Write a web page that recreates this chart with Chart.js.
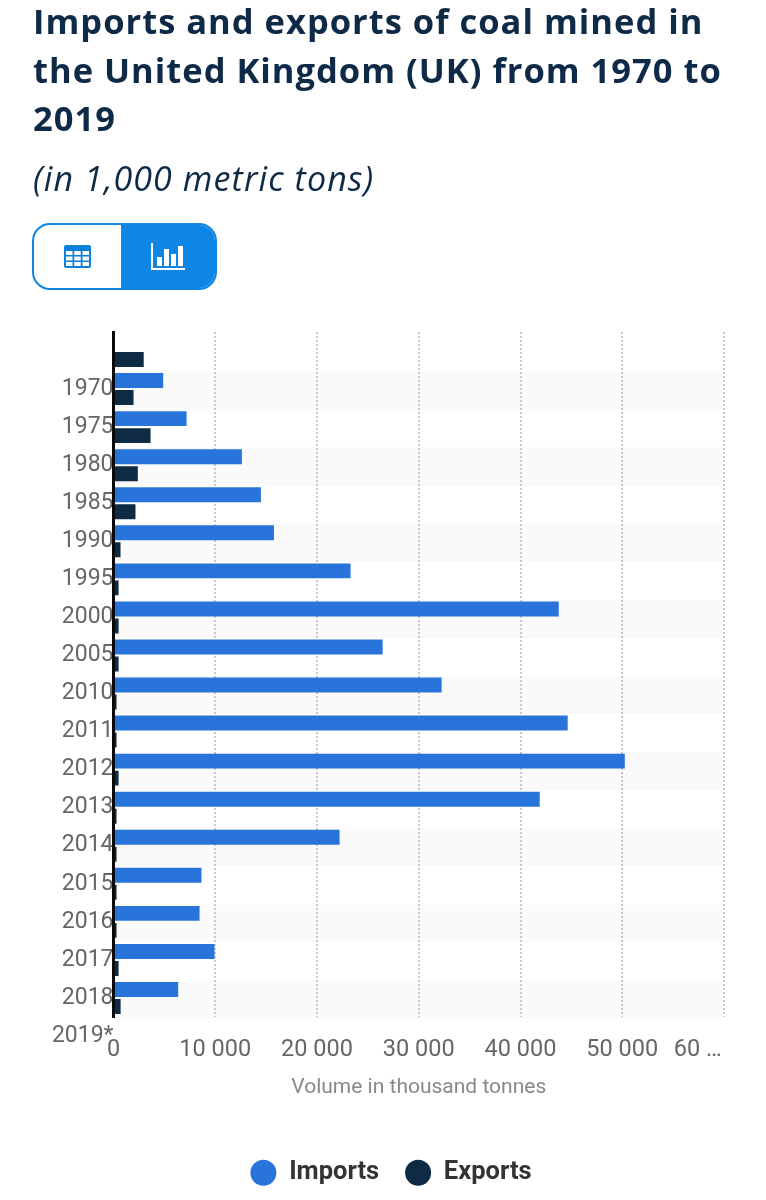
<!DOCTYPE html>
<html>
<head>
<meta charset="utf-8">
<title>Coal imports and exports UK</title>
<script src="https://cdn.jsdelivr.net/npm/chart.js@4"></script>
<style>
  html, body { margin: 0; padding: 0; background: #fff; }
  body { position: relative; width: 766px; height: 1200px; overflow: hidden; font-family: "Open Sans", sans-serif; color: #0f2a47; }
  #chart { position: absolute; left: 0; top: 0; }
  h1 { position: absolute; left: 33px; top: -3px; margin: 0; font-size: 34.5px; line-height: 48.5px; font-weight: 700; letter-spacing: 1px; white-space: nowrap; }
  #subtitle { position: absolute; left: 33px; top: 155px; font-size: 34px; line-height: 46px; font-style: italic; letter-spacing: 1.1px; white-space: nowrap; }
  #toggle { position: absolute; left: 32px; top: 223px; width: 185px; height: 67px; box-sizing: border-box; border: 2px solid #0d86e6; border-radius: 18px; overflow: hidden; display: flex; }
  #toggle div { flex: 0 0 87px; display: flex; align-items: center; justify-content: center; }
  #toggle div + div { flex: 1; background: #0d86e6; }
</style>
</head>
<body>
<canvas id="chart" width="766" height="1200"></canvas>
<h1>Imports and exports of coal mined in<br>the United Kingdom (UK) from 1970 to<br>2019</h1>
<div id="subtitle">(in 1,000 metric tons)</div>
<div id="toggle">
  <div>
    <svg width="27" height="23" viewBox="0 0 27 23"><rect width="27" height="23" rx="2" fill="#0b80d8"/><g fill="#fff"><rect x="2" y="6" width="6.5" height="4"/><rect x="10.2" y="6" width="6.5" height="4"/><rect x="18.5" y="6" width="6.5" height="4"/><rect x="2" y="11.5" width="6.5" height="4"/><rect x="10.2" y="11.5" width="6.5" height="4"/><rect x="18.5" y="11.5" width="6.5" height="4"/><rect x="2" y="17" width="6.5" height="4"/><rect x="10.2" y="17" width="6.5" height="4"/><rect x="18.5" y="17" width="6.5" height="4"/></g></svg>
  </div>
  <div>
    <svg width="34" height="27" viewBox="0 0 34 27"><g fill="#fff"><rect x="0" y="0" width="2" height="27"/><rect x="0" y="25" width="34" height="2"/><rect x="6" y="14" width="5" height="9"/><rect x="13" y="6" width="5" height="17"/><rect x="20" y="11" width="5" height="12"/><rect x="27" y="3" width="5" height="20"/></g></svg>
  </div>
</div>

<script>
// Values (thousand tonnes)
const YEARS = ["1970", "1975", "1980", "1985", "1990", "1995", "2000", "2005", "2010", "2011", "2012", "2013", "2014", "2015", "2016", "2017", "2018", "2019*"];
const IMPORTS = [null, 4880, 7180, 12620, 14490, 15770, 23300, 43760, 26450, 32250, 44640, 50250, 41890, 22220, 8650, 8460, 9930, 6360];
const EXPORTS = [2970, 1970, 3640, 2390, 2160, 690, 500, 500, 500, 300, 300, 500, 300, 300, 300, 300, 500, 700];
const VALUE_TICKS = [0, 10000, 20000, 30000, 40000, 50000, 60000];

const IMPORT_COLOR = "#2974db";
const EXPORT_COLOR = "#0f2a43";

function formatTick(value) {
  // last tick is cut short in the original, padded so it sits left of its gridline
  if (value === 60000) return "60 …         ";
  return String(value).replace(/\B(?=(\d{3})+$)/g, " ");
}

// Grey background on every other row
const rowStripes = {
  id: "rowStripes",
  afterLayout(chart) {
    // year labels are wider than the axis box, keep them from being clipped
    chart.scales.y.left = 0;
  },
  beforeDraw(chart) {
    const { ctx, chartArea, scales } = chart;
    const band = scales.y.getPixelForValue(1) - scales.y.getPixelForValue(0);
    ctx.save();
    ctx.fillStyle = "#fafafa";
    YEARS.forEach((year, i) => {
      if (i % 2 === 1) {
        const top = scales.y.getPixelForValue(i) - band / 2 + 1.5;
        ctx.fillRect(chartArea.left, top, chartArea.width - 2, band);
      }
    });
    ctx.restore();
  },
};

new Chart(document.getElementById("chart"), {
  type: "bar",
  plugins: [rowStripes],
  data: {
    labels: YEARS,
    datasets: [
      { label: "Imports", data: IMPORTS, backgroundColor: IMPORT_COLOR },
      { label: "Exports", data: EXPORTS, backgroundColor: EXPORT_COLOR },
    ],
  },
  options: {
    indexAxis: "y",
    responsive: false,
    animation: false,
    devicePixelRatio: 1,
    categoryPercentage: 0.893,
    barPercentage: 0.88,
    layout: { padding: { left: 58, right: 42, top: 332, bottom: 4.5 } },
    plugins: {
      tooltip: { enabled: false },
      legend: {
        position: "bottom",
        labels: {
          usePointStyle: true,
          pointStyle: "circle",
          boxHeight: 18.4,
          pointStyleWidth: 26,
          padding: 26,
          color: "#333",
          font: { family: "Roboto", size: 25.5, weight: "700" },
        },
      },
    },
    scales: {
      x: {
        min: 0,
        max: 60000,
        afterBuildTicks(scale) {
          scale.ticks = VALUE_TICKS.map((value) => ({ value }));
        },
        afterFit(scale) {
          scale.height = 117;
          scale.paddingRight = 0;
          scale.paddingLeft = 0;
        },
        grid: {
          color: (c) => (c.tick && c.tick.value === 0 ? "transparent" : "#c8c8c8"),
          lineWidth: 2,
          drawTicks: false,
        },
        border: { display: false, dash: [2, 2] },
        ticks: {
          callback: formatTick,
          autoSkip: false,
          maxRotation: 0,
          padding: 19,
          color: "#666",
          font: { family: "Roboto", size: 23.5 },
        },
        title: {
          display: true,
          text: "Volume in thousand tonnes",
          color: "#888",
          font: { family: "Roboto", size: 21 },
          padding: { top: 14, bottom: 34 },
        },
      },
      y: {
        afterFit(scale) {
          scale.width = 55.5;
          scale.paddingTop = 0;
          scale.paddingBottom = 0;
        },
        grid: { drawOnChartArea: false, drawTicks: false },
        border: { color: "#0a0a0a", width: 3, z: 1 },
        ticks: {
          autoSkip: false,
          padding: 0,
          labelOffset: 38,
          color: "#666",
          font: { family: "Roboto", size: 23 },
        },
      },
    },
  },
});
</script>
</body>
</html>
